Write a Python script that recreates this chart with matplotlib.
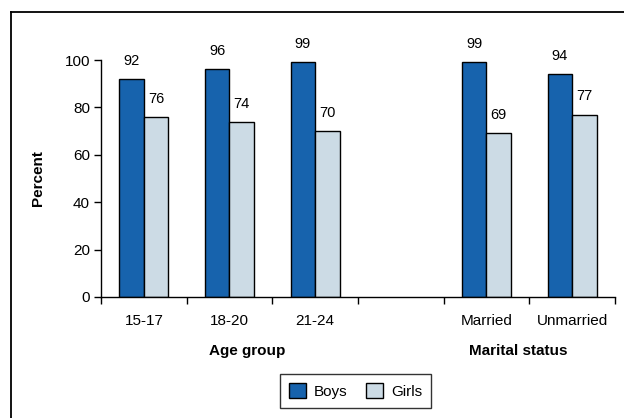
import numpy as np
import matplotlib
matplotlib.use('Agg')
import matplotlib.pyplot as plt
from matplotlib.lines import Line2D
from matplotlib.patches import Patch

plt.rcParams['font.family'] = ['Liberation Sans', 'DejaVu Sans']

# 年龄组和婚姻状况两组数据
age_groups = ['15-17', '18-20', '21-24']
age_boys = [92, 96, 99]
age_girls = [76, 74, 70]

marital_groups = ['Married', 'Unmarried']
marital_boys = [99, 94]
marital_girls = [69, 77]

boys_color = '#1763ad'
girls_color = '#ccdbe5'

fig = plt.figure(figsize=(6.24, 4.18), dpi=100)
ax = fig.add_axes([101 / 624, 1 - 297 / 418, 514 / 624, 237 / 418])

# 两组之间空一格
labels = age_groups + [''] + marital_groups
boys = age_boys + [np.nan] + marital_boys
girls = age_girls + [np.nan] + marital_girls
x = np.arange(len(labels))
w = 0.286

for xi, b, g in zip(x, boys, girls):
    if np.isnan(b):
        continue
    ax.bar(xi - w / 2, b, w, color=boys_color, edgecolor='black', linewidth=1)
    ax.bar(xi + w / 2, g, w, color=girls_color, edgecolor='black', linewidth=1)
    ax.annotate(f'{b:.0f}', (xi - w / 2, b), xytext=(0, 8), textcoords='offset points',
                ha='center', va='bottom', fontsize=10.5)
    ax.annotate(f'{g:.0f}', (xi + w / 2, g), xytext=(0, 8), textcoords='offset points',
                ha='center', va='bottom', fontsize=10.5)

ax.set_xlim(-0.5, len(labels) - 0.5)
ax.set_ylim(0, 100)
ax.set_yticks(np.arange(0, 101, 20))
ax.set_xticks(x)
ax.set_xticklabels(labels, fontsize=11)
ax.set_xticks(np.arange(-0.5, len(labels), 1), minor=True)
ax.tick_params(axis='x', which='major', length=0, pad=12)
ax.tick_params(axis='x', which='minor', length=5, width=1, direction='out')
ax.tick_params(axis='y', length=5, width=1, direction='out', labelsize=11, pad=3)
for s in ['top', 'right']:
    ax.spines[s].set_visible(False)
for s in ['left', 'bottom']:
    ax.spines[s].set_linewidth(1)

fig.text(38 / 624, 1 - 178 / 418, 'Percent', rotation=90, ha='center', va='center',
         fontsize=11, fontweight='bold')
fig.text(247 / 624, 1 - 351 / 418, 'Age group', ha='center', va='center',
         fontsize=11, fontweight='bold')
fig.text(518 / 624, 1 - 351 / 418, 'Marital status', ha='center', va='center',
         fontsize=11, fontweight='bold')

handles = [Patch(facecolor=boys_color, edgecolor='black', label='Boys'),
           Patch(facecolor=girls_color, edgecolor='black', label='Girls')]
leg = fig.legend(handles=handles, loc='center', bbox_to_anchor=(355.5 / 624, 1 - 391 / 418),
                 ncol=2, fontsize=11, frameon=True, fancybox=False, handlelength=1.15,
                 handleheight=1.15, handletextpad=0.5, columnspacing=1.2, borderpad=0.6)
leg.get_frame().set_edgecolor('black')
leg.get_frame().set_linewidth(1)

# 外框（上边和左边）
fig.add_artist(Line2D([11 / 624, 1], [1 - 12 / 418, 1 - 12 / 418], color='black', lw=1.3))
fig.add_artist(Line2D([11 / 624, 11 / 624], [0, 1 - 12 / 418], color='black', lw=1.3))

fig.savefig('out.png', dpi=100)
